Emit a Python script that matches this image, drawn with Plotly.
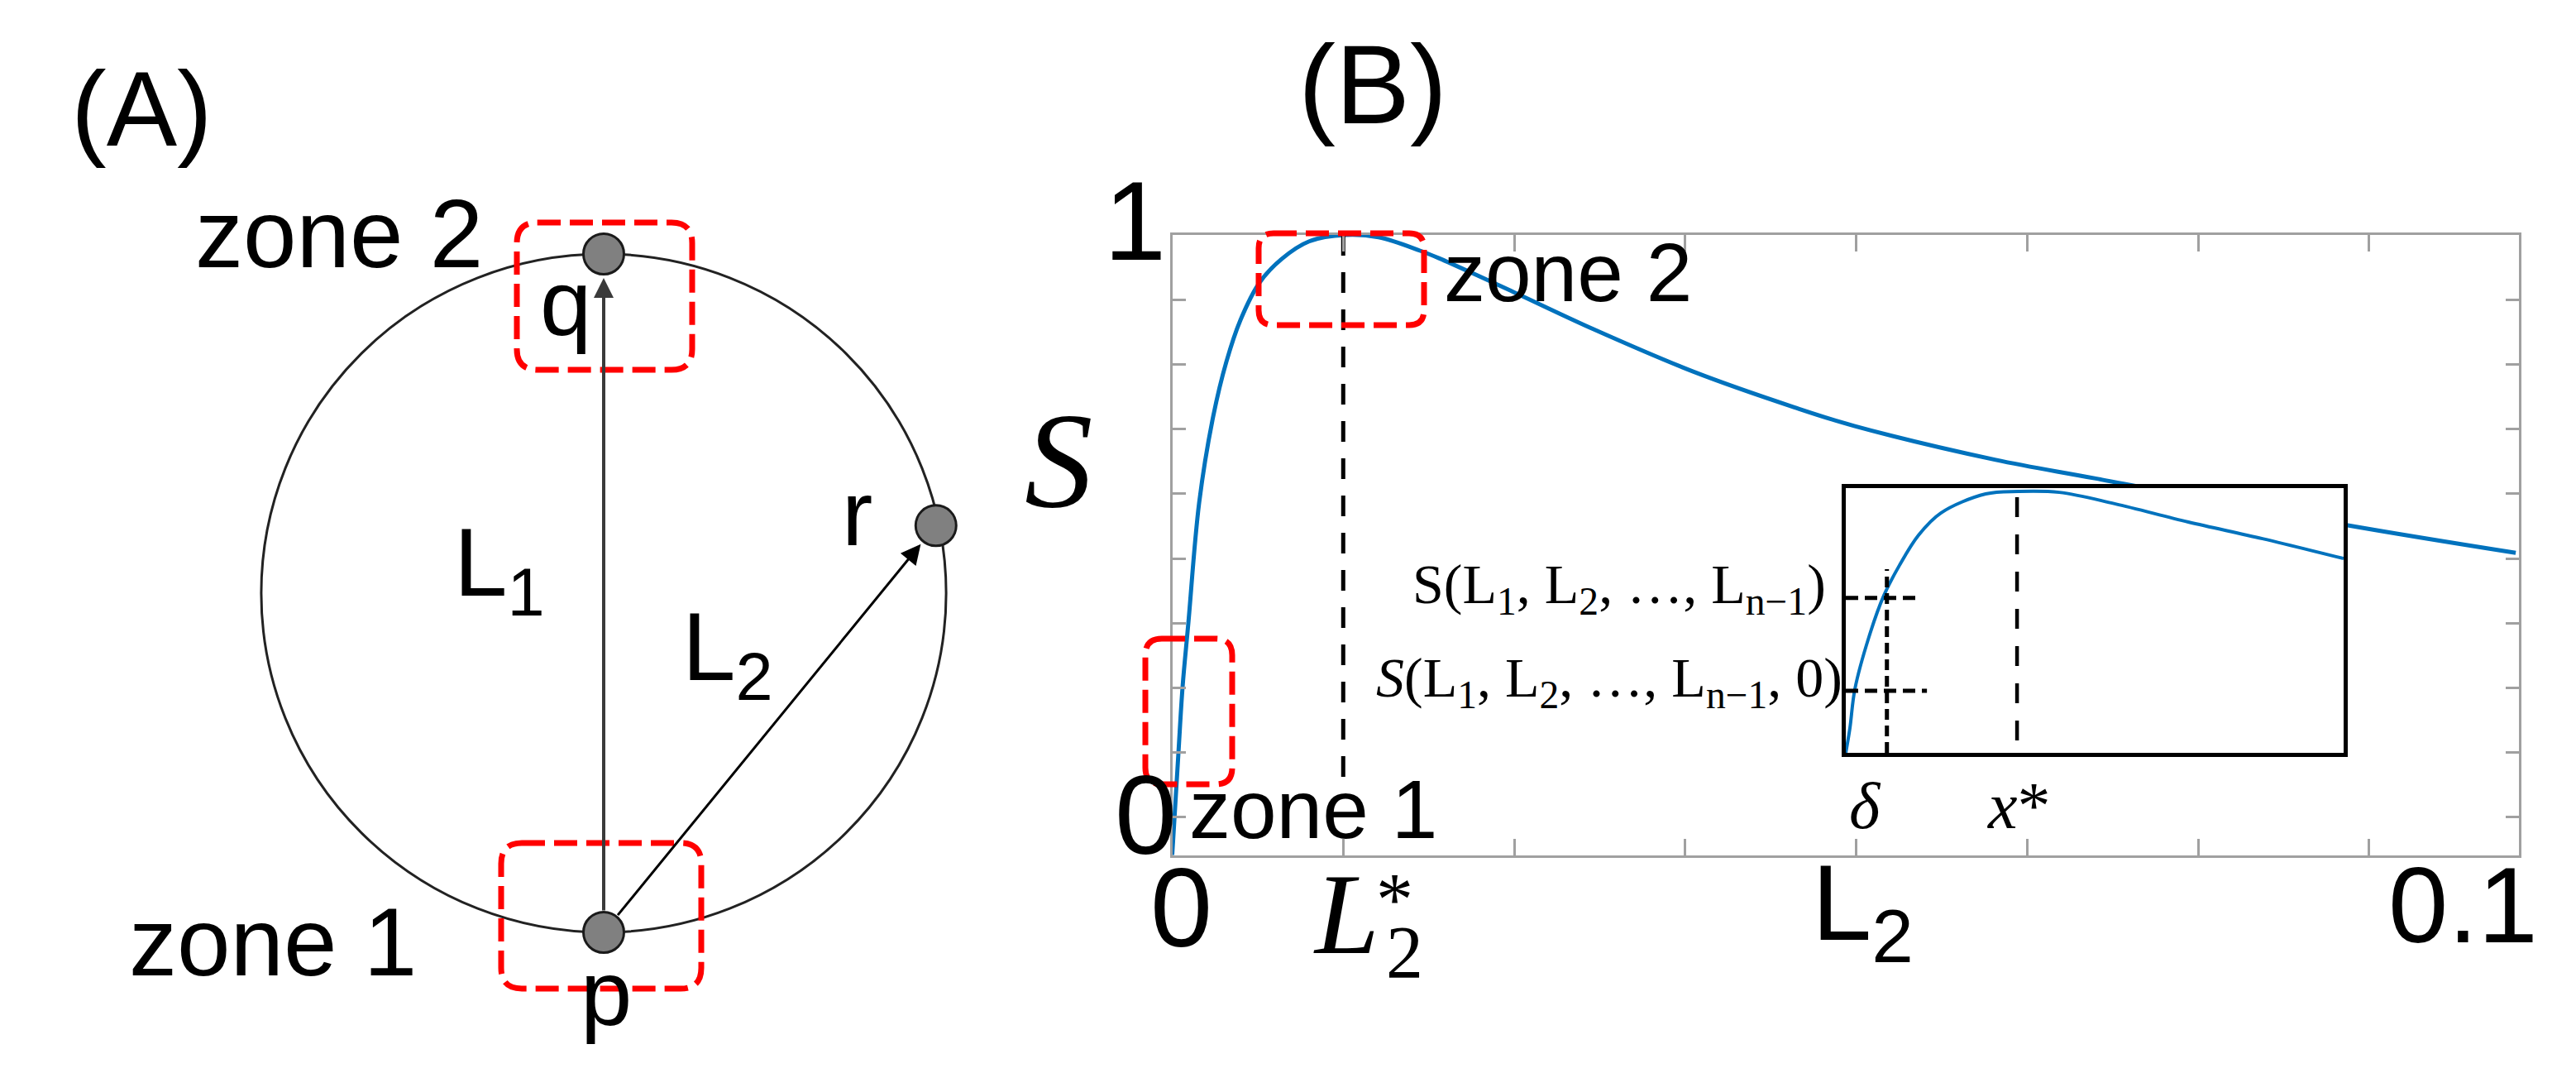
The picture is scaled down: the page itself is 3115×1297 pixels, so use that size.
import math
import plotly.graph_objects as go

W, H = 3115, 1297

# ---------------- data ----------------
# Panel B main curve: S as a function of L2
L2_vals = [0.0, 0.00046, 0.00077, 0.00120, 0.00200, 0.00304, 0.00402, 0.00507, 0.00648,
           0.00814, 0.01017, 0.01287, 0.01533, 0.01840, 0.01981, 0.02534, 0.0313, 0.03873,
           0.0462, 0.05065, 0.06109, 0.0685, 0.08713, 0.09978]
S_vals = [-0.065, 0.110, 0.224, 0.334, 0.540, 0.688, 0.782, 0.854, 0.918,
          0.959, 0.989, 1.000, 0.996, 0.973, 0.960, 0.902, 0.838, 0.765,
          0.704, 0.672, 0.614, 0.582, 0.502, 0.454]
L2_star = 0.0127
L2_star_line_S = [1.0, 0.068]
x_tick_vals = [0.0, 0.0127, 0.0254, 0.0381, 0.0508, 0.0635, 0.0762, 0.0889]
y_tick_vals = [0.0, 0.111, 0.222, 0.333, 0.444, 0.556, 0.667, 0.778, 0.889, 1.0]

# Inset (zoom of zone 1)
inset_x = [0.0, 0.0083, 0.0183, 0.0465, 0.0764, 0.108, 0.146, 0.191, 0.281, 0.347,
           0.429, 0.540, 0.688, 0.837, 1.0]
inset_y = [0.0, 0.094, 0.241, 0.4375, 0.594, 0.709, 0.822, 0.906, 0.978, 0.9875,
           0.984, 0.941, 0.872, 0.809, 0.734]
delta = 0.0826
x_star = 0.344
S_full = 0.585     # S(L1, ..., Ln-1)
S_zero = 0.234     # S(L1, ..., Ln-1, 0)
delta_line_y = [0.0, 0.694]
S_full_line_x = [0.0, 0.151]
S_zero_line_x = [0.0, 0.163]
x_star_line_y = [0.047, 0.98]
S_full_label = "S(L<sub>1</sub>, L<sub>2</sub>, …, L<sub>n−1</sub>)"
S_zero_label = "<i>S</i>(L<sub>1</sub>, L<sub>2</sub>, …, L<sub>n−1</sub>, 0)"

# Panel A: nodes on the unit circle (angle in degrees)
node_names = ["p", "q", "r"]
node_angle = [-90.0, 90.0, 11.5]

# ---------------- helpers ----------------
node_x = [math.cos(math.radians(a)) for a in node_angle]
node_y = [math.sin(math.radians(a)) for a in node_angle]


def px(x):
    return x / W


def py(y):
    return 1 - y / H


SANS = "Liberation Sans, Arial, sans-serif"
SERIF = "Liberation Serif, Times New Roman, serif"
BLUE = "#0072BD"
FRAME = "#a0a0a0"

fig = go.Figure()

# main curve
fig.add_trace(go.Scatter(x=L2_vals, y=S_vals, mode="lines", line=dict(color=BLUE, width=5, shape="spline"),
                         xaxis="x", yaxis="y", hoverinfo="skip"))
fig.add_trace(go.Scatter(x=[L2_star, L2_star], y=L2_star_line_S, mode="lines",
                         line=dict(color="black", width=5, dash="25px,20px"), xaxis="x", yaxis="y"))

# panel A nodes
fig.add_trace(go.Scatter(x=node_x, y=node_y, mode="markers",
                         marker=dict(size=49, color="#808080", line=dict(color="#1a1a1a", width=3)),
                         xaxis="x2", yaxis="y2", hoverinfo="skip"))

# inset traces
fig.add_trace(go.Scatter(x=inset_x, y=inset_y, mode="lines", line=dict(color=BLUE, width=4, shape="spline"),
                         xaxis="x3", yaxis="y3"))
fig.add_trace(go.Scatter(x=[delta, delta], y=delta_line_y, mode="lines",
                         line=dict(color="black", width=5, dash="13px,7px"), xaxis="x3", yaxis="y3"))
fig.add_trace(go.Scatter(x=S_full_line_x, y=[S_full, S_full], mode="lines",
                         line=dict(color="black", width=5, dash="15px,8px"), xaxis="x3", yaxis="y3"))
fig.add_trace(go.Scatter(x=S_zero_line_x, y=[S_zero, S_zero], mode="lines",
                         line=dict(color="black", width=5, dash="15px,8px"), xaxis="x3", yaxis="y3"))
fig.add_trace(go.Scatter(x=[x_star, x_star], y=x_star_line_y, mode="lines",
                         line=dict(color="black", width=4.5, dash="24px,21px"), xaxis="x3", yaxis="y3"))

# ---------------- layout ----------------
A_cx, A_cy, A_r = 730.0, 717.0, 410.0
A_w = 1300.0

main_ax = dict(showgrid=False, zeroline=False, showline=True, linecolor=FRAME, linewidth=3,
               mirror="allticks", ticks="inside", tickcolor=FRAME, tickwidth=2.5, showticklabels=False)

fig.update_layout(
    width=W, height=H, autosize=False,
    margin=dict(l=0, r=0, t=0, b=0, pad=0),
    paper_bgcolor="white", plot_bgcolor="white", showlegend=False,
    xaxis=dict(domain=[1417.5 / W, 3045.7 / W], range=[0, 0.1], tickmode="array",
               tickvals=x_tick_vals, ticklen=20, anchor="y", **main_ax),
    yaxis=dict(domain=[py(1034), py(284)], range=[-0.0658, 1.0], tickmode="array",
               tickvals=y_tick_vals, ticklen=16, anchor="x", **main_ax),
    xaxis2=dict(domain=[0, A_w / W], range=[-A_cx / A_r, (A_w - A_cx) / A_r], visible=False, anchor="y2"),
    yaxis2=dict(domain=[0, 1], range=[-(H - A_cy) / A_r, A_cy / A_r], visible=False, anchor="x2"),
    xaxis3=dict(domain=[2232 / W, 2834 / W], range=[0, 1], anchor="y3", showgrid=False, zeroline=False,
                showline=True, mirror=True, linecolor="black", linewidth=5, ticks="",
                showticklabels=False),
    yaxis3=dict(domain=[py(910), py(590)], range=[0, 1], anchor="x3", showgrid=False, zeroline=False,
                showline=True, mirror=True, linecolor="black", linewidth=5, ticks="",
                showticklabels=False),
)

# circle in panel A
fig.add_shape(type="circle", xref="x2", yref="y2", x0=-1.01, x1=1.01, y0=-1, y1=1,
              line=dict(color="#222222", width=3), layer="below")

# arrows p->q and p->r
ip = node_names.index("p")
for name, width, color, size in [("q", 4, "#3a3a3a", 1.2), ("r", 3, "black", 1.6)]:
    i = node_names.index(name)
    fig.add_annotation(x=node_x[i], y=node_y[i], ax=node_x[ip], ay=node_y[ip],
                       xref="x2", yref="y2", axref="x2", ayref="y2", text="", showarrow=True,
                       arrowhead=2, arrowsize=size, arrowwidth=width, arrowcolor=color,
                       standoff=29, startstandoff=25)

# inset x labels (delta, x*)
for t, xv, xs in [("<i>δ</i>", delta, -26), ("<i>x</i>*", x_star, 2)]:
    fig.add_annotation(x=xv, y=0, xref="x3", yref="y3", text=t, showarrow=False,
                       xanchor="center", yanchor="top", yshift=-18, xshift=xs,
                       font=dict(family=SERIF, size=80, color="black"))

# inset y labels (S values), right-aligned next to the inset frame
for t, yv, xs in [(S_full_label, S_full, -22), (S_zero_label, S_zero, -2)]:
    fig.add_annotation(x=0, y=yv, xref="x3", yref="y3", text=t, showarrow=False,
                       xanchor="right", yanchor="middle", xshift=xs, yshift=12,
                       font=dict(family=SERIF, size=68, color="black"))


# red dashed rounded boxes (pixel positions)
def rrect(x0, y0, x1, y1, r):
    pts = [("M", x0 + r, y0), ("L", x1 - r, y0), ("Q", x1, y0, x1, y0 + r), ("L", x1, y1 - r),
           ("Q", x1, y1, x1 - r, y1), ("L", x0 + r, y1), ("Q", x0, y1, x0, y1 - r),
           ("L", x0, y0 + r), ("Q", x0, y0, x0 + r, y0)]
    s = ""
    for p in pts:
        cmd = p[0]
        coords = p[1:]
        parts = []
        for k in range(0, len(coords), 2):
            parts.append(f"{px(coords[k]):.6f},{py(coords[k + 1]):.6f}")
        s += cmd + " ".join(parts) + " "
    return s + "Z"


for (x0, y0, x1, y1, r) in [(625, 269, 837, 447, 25), (606, 1019, 848, 1195, 25),
                            (1522, 282, 1722, 393, 18), (1385, 772, 1490, 948, 20)]:
    fig.add_shape(type="path", path=rrect(x0, y0, x1, y1, r), xref="paper", yref="paper",
                  line=dict(color="#ff0000", width=7, dash="28px,11px"), layer="above")

# text labels (pixel positions -> paper)
texts = [
    ("(A)", 171, 132, 128, SANS),
    ("(B)", 1660, 103, 135, SANS),
    ("zone 2", 410, 283, 116, SANS),
    ("zone 1", 330, 1139, 116, SANS),
    ("q", 684, 366, 112, SANS),
    ("p", 733, 1200, 112, SANS),
    ("r", 1036, 620, 112, SANS),
    ("L<sub>1</sub>", 604, 688, 116, SANS),
    ("L<sub>2</sub>", 880, 790, 116, SANS),
    ("zone 2", 1896, 329, 100, SANS),
    ("zone 1", 1588, 978, 100, SANS),
    ("1", 1372, 268, 135, SANS),
    ("0", 1385, 985, 135, SANS),
    ("0", 1428, 1097, 135, SANS),
    ("0.1", 2978, 1094, 130, SANS),
    ("L<sub>2</sub>", 2252, 1100, 130, SANS),
    ("<i>S</i>", 1280, 556, 165, SERIF),
    ("<i>L</i>", 1628, 1104, 140, SERIF),
    ("2", 1698, 1151, 90, SERIF),
    ("*", 1686, 1087, 90, SERIF),
]
for t, cx, cy, size, fam in texts:
    fig.add_annotation(x=px(cx), y=py(cy), xref="paper", yref="paper", text=t, showarrow=False,
                       xanchor="center", yanchor="middle", font=dict(family=fam, size=size, color="black"))

fig.write_html("out.html", config={"displayModeBar": False},
               post_script="document.body.style.margin='0px';document.body.style.overflow='hidden';")
